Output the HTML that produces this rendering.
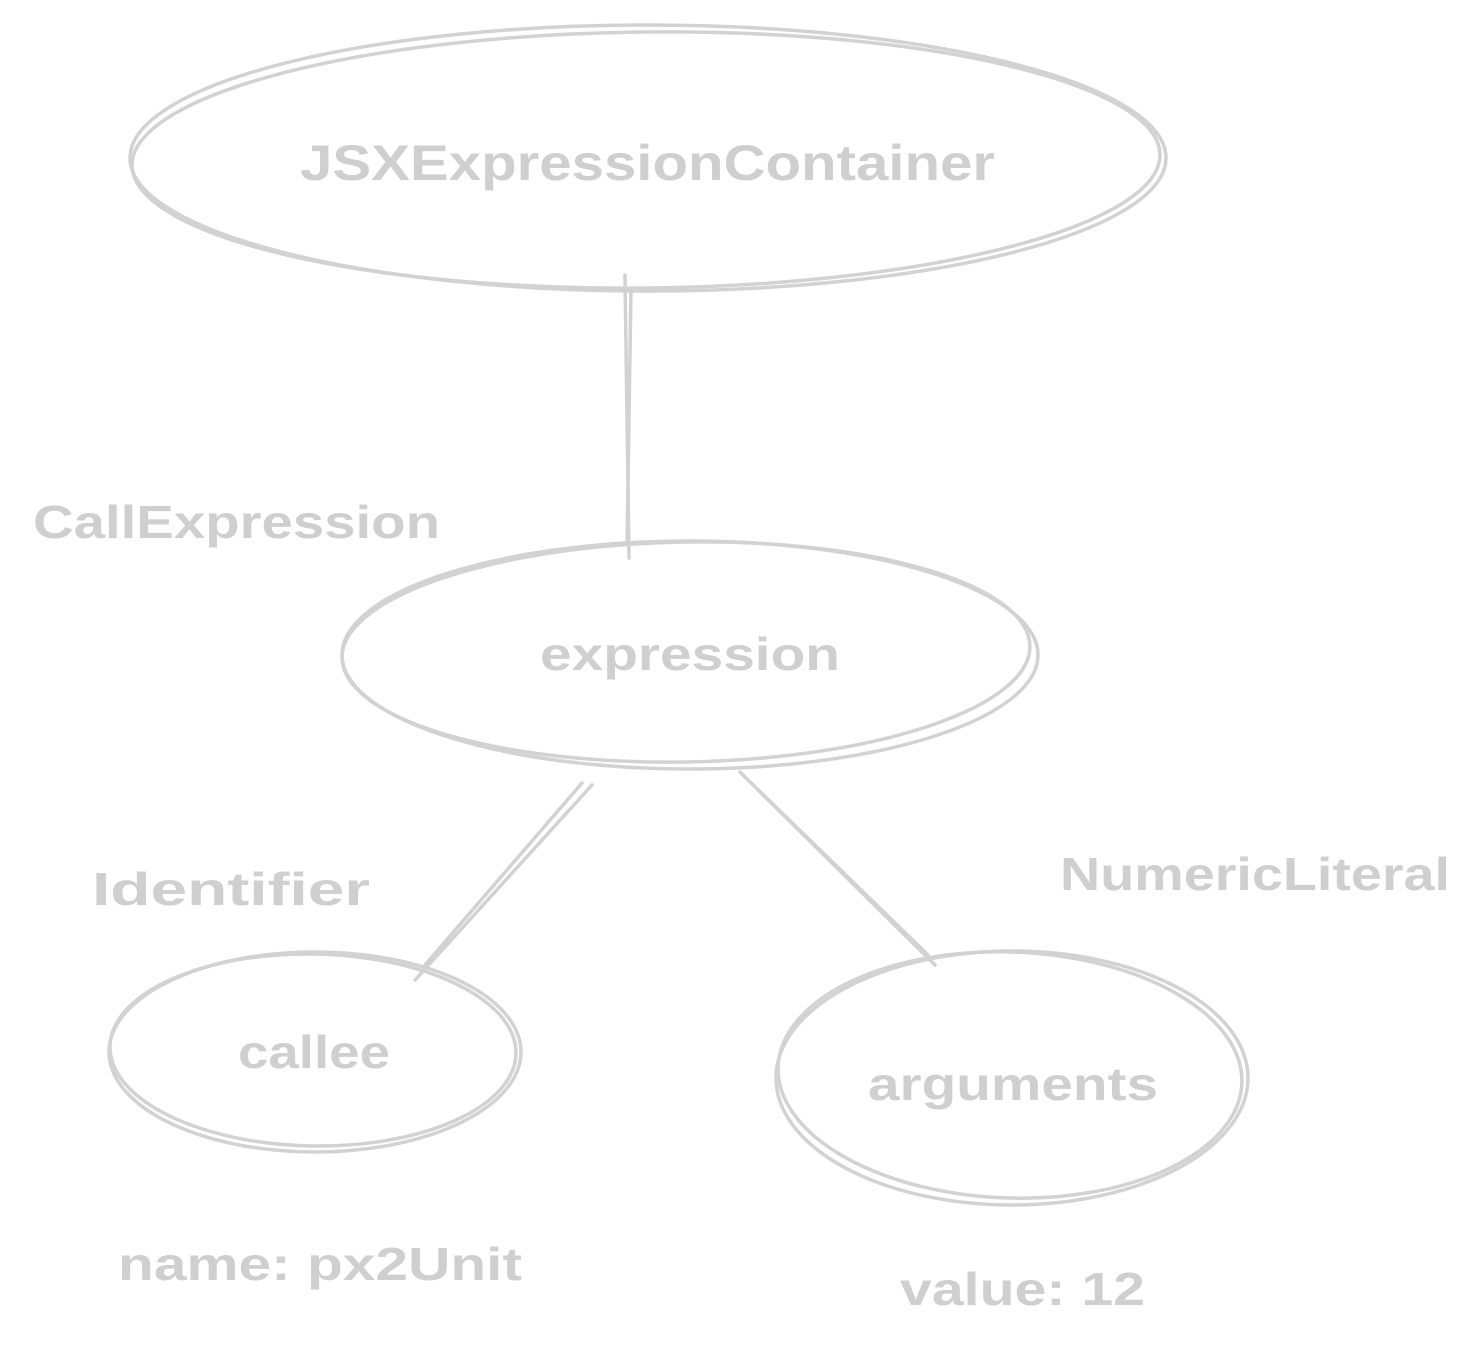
<!DOCTYPE html>
<html><head><meta charset="utf-8"><style>
html,body{margin:0;padding:0;background:#fff;}
svg{display:block}
text{font-family:"Liberation Sans",sans-serif;fill:#cfcfcf;font-weight:bold;}
</style></head><body>
<svg width="1483" height="1355" viewBox="0 0 1483 1355" xmlns="http://www.w3.org/2000/svg">
<g fill="none" stroke="#d2d2d2" stroke-width="3.5" stroke-linecap="round">
<ellipse cx="648" cy="158" rx="518" ry="133"/>
<ellipse cx="646" cy="160" rx="514" ry="128" transform="rotate(-0.6 646 160)"/>
<ellipse cx="690" cy="655" rx="348" ry="114"/>
<ellipse cx="686" cy="652" rx="344" ry="110" transform="rotate(-1 686 652)"/>
<ellipse cx="315" cy="1052" rx="206" ry="100"/>
<ellipse cx="313" cy="1050" rx="203" ry="96" transform="rotate(1 313 1050)"/>
<ellipse cx="1012" cy="1078" rx="236" ry="127"/>
<ellipse cx="1010" cy="1075" rx="232" ry="123" transform="rotate(2 1010 1075)"/>
<path d="M625 275 L629 558 M631 290 L627 545"/>
<path d="M592 785 L415 980 M582 783 L425 965"/>
<path d="M740 772 L935 965 M745 777 L928 955"/>
</g>
<text x="300" y="180" font-size="50" textLength="695" lengthAdjust="spacingAndGlyphs">JSXExpressionContainer</text>
<text x="33" y="538" font-size="46" textLength="407" lengthAdjust="spacingAndGlyphs">CallExpression</text>
<text x="540" y="670" font-size="46" textLength="300" lengthAdjust="spacingAndGlyphs">expression</text>
<text x="92" y="905" font-size="46" textLength="278" lengthAdjust="spacingAndGlyphs">Identifier</text>
<text x="1060" y="890" font-size="46" textLength="390" lengthAdjust="spacingAndGlyphs">NumericLiteral</text>
<text x="238" y="1068" font-size="46" textLength="152" lengthAdjust="spacingAndGlyphs">callee</text>
<text x="868" y="1100" font-size="46" textLength="290" lengthAdjust="spacingAndGlyphs">arguments</text>
<text x="118" y="1280" font-size="46" textLength="404" lengthAdjust="spacingAndGlyphs">name: px2Unit</text>
<text x="900" y="1305" font-size="46" textLength="245" lengthAdjust="spacingAndGlyphs">value: 12</text>
</svg>
</body></html>
